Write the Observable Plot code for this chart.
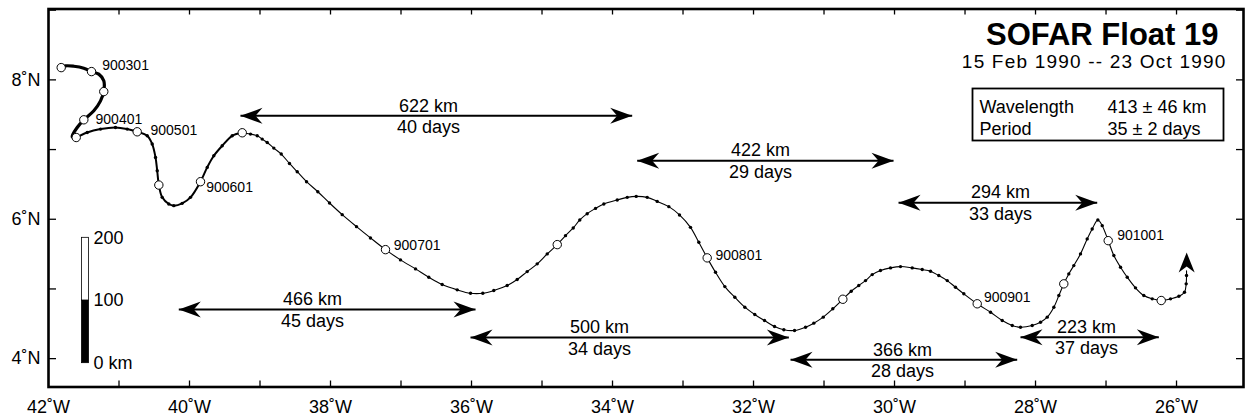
<!DOCTYPE html>
<html><head><meta charset="utf-8">
<script src="https://cdn.jsdelivr.net/npm/d3@7"></script>
<script src="https://cdn.jsdelivr.net/npm/@observablehq/plot@0.6"></script>
<style>body{margin:0;background:#fff;} svg{display:block}</style>
</head><body><div id="chart"></div>
<script>
// ---- data ----
const title = "SOFAR Float 19";
const subtitle = "15 Feb 1990 -- 23 Oct 1990";
const statNames = ["Wavelength", "Period"];
const statValues = ["413 \u00b1 46 km", "35 \u00b1 2 days"];

const lonTicks = [-42, -40, -38, -36, -34, -32, -30, -28, -26];
const latTicks = [4, 6, 8];

// semi-monthly fixes (open circles)
const fixDates = ["900215","900301","900315","900401","900415","900501","900515","900601","900615",
                  "900701","900715","900801","900815","900901","900915","901001","901015"];
const fixLon = [-41.820,-41.390,-41.216,-41.499,-41.607,-40.742,-40.435,-39.844,-39.252,
                -37.220,-34.784,-32.657,-30.733,-28.827,-27.599,-26.969,-26.217];
const fixLat = [8.176,8.119,7.832,7.427,7.173,7.255,6.491,6.539,7.241,
                5.564,5.636,5.446,4.852,4.787,5.073,5.693,4.834];

// track, in three pieces (slow / medium / fast drift)
const trackSlow = [[-41.820,8.176],[-41.759,8.201],[-41.641,8.196],[-41.499,8.168],[-41.390,8.119],
  [-41.287,8.082],[-41.216,7.986],[-41.216,7.832],[-41.262,7.699],[-41.357,7.556],[-41.499,7.427],
  [-41.593,7.317],[-41.664,7.183],[-41.607,7.173]];
const trackMid = [[-41.607,7.173],[-41.451,7.245],[-41.262,7.294],[-41.050,7.317],[-40.884,7.294],
  [-40.742,7.255],[-40.600,7.198],[-40.529,7.079],[-40.482,6.887],[-40.458,6.696],[-40.435,6.491],
  [-40.387,6.314],[-40.294,6.219],[-40.223,6.195],[-40.104,6.228],[-39.986,6.314],[-39.844,6.539],
  [-39.749,6.744],[-39.655,6.911],[-39.536,7.054],[-39.394,7.198],[-39.252,7.241]];
const trackFast = [[-39.252,7.241],
  [-39.135,7.222],[-39.040,7.198],[-38.969,7.150],[-38.898,7.102],[-38.804,7.021],[-38.699,6.936],
  [-38.582,6.801],[-38.472,6.682],[-38.340,6.539],[-38.180,6.395],[-38.014,6.233],[-37.834,6.066],
  [-37.631,5.894],[-37.433,5.732],[-37.220,5.564],[-37.007,5.417],[-36.794,5.288],[-36.606,5.168],
  [-36.416,5.063],[-36.203,4.987],[-36.014,4.938],[-35.840,4.938],[-35.684,4.977],[-35.494,5.049],
  [-35.352,5.135],[-35.210,5.249],[-35.068,5.360],[-34.926,5.503],[-34.784,5.636],[-34.667,5.765],
  [-34.557,5.875],[-34.464,5.990],[-34.359,6.080],[-34.241,6.156],[-34.123,6.219],[-33.933,6.277],
  [-33.791,6.314],[-33.664,6.328],[-33.508,6.314],[-33.366,6.256],[-33.201,6.181],[-33.050,6.062],
  [-32.894,5.884],[-32.776,5.669],[-32.657,5.446],[-32.539,5.239],[-32.407,5.034],[-32.265,4.881],
  [-32.123,4.738],[-31.982,4.633],[-31.844,4.547],[-31.702,4.461],[-31.570,4.414],[-31.418,4.404],
  [-31.262,4.451],[-31.145,4.509],[-31.011,4.595],[-30.875,4.715],[-30.733,4.852],[-30.614,4.967],
  [-30.507,5.049],[-30.411,5.120],[-30.316,5.206],[-30.199,5.264],[-30.057,5.302],[-29.915,5.321],
  [-29.749,5.302],[-29.607,5.278],[-29.489,5.254],[-29.372,5.192],[-29.252,5.120],[-29.135,5.024],
  [-29.017,4.930],[-28.827,4.787],[-28.638,4.666],[-28.472,4.547],[-28.330,4.476],[-28.213,4.451],
  [-28.047,4.476],[-27.929,4.523],[-27.834,4.595],[-27.740,4.738],[-27.669,4.905],[-27.599,5.073],
  [-27.528,5.216],[-27.457,5.335],[-27.362,5.503],[-27.267,5.718],[-27.196,5.861],[-27.116,5.990],
  [-27.054,5.908],[-26.969,5.693],[-26.889,5.479],[-26.794,5.311],[-26.699,5.168],[-26.582,5.016],
  [-26.464,4.905],[-26.345,4.858],[-26.217,4.834],[-26.085,4.858],[-25.967,4.895],[-25.887,4.953],
  [-25.863,5.073],[-25.858,5.192],[-25.858,5.260]];
const trackTip = [[-25.856, 5.522]];

// wavelength / period spans (double arrows)
const spanKm   = [622, 422, 294, 466, 500, 366, 223];
const spanDays = [40, 29, 33, 45, 34, 28, 37];
const spanWest = [-39.277, -33.650, -29.943, -40.152, -36.014, -31.475, -28.213];
const spanEast = [-33.721, -30.014, -27.125, -35.943, -31.499, -28.260, -26.251];
const spanLat  = [7.484, 6.840, 6.238, 4.705, 4.304, 3.984, 4.308];
const spanLabelLon = [-36.610, -31.901, -28.496, -38.255, -34.184, -29.887, -27.277];

// distance scale bar (km)
const scaleKm = [0, 100, 200];
const kmPerDegLat = 111.2;
const scaleBaseLat = 3.935;

// ---- build tables ----
const fixes = fixDates.map((d, i) => ({date: d, lon: fixLon[i], lat: fixLat[i]}));
const spans = spanKm.map((k, i) => ({km: k, days: spanDays[i], west: spanWest[i], east: spanEast[i],
  lat: spanLat[i], labelLon: spanLabelLon[i]}));
const scaleSegs = [[0, 100], [100, 200]];

const labelOffset = {
  "900301": [10.7, -5.7], "900401": [11.7, -0.7], "900501": [13.3, -1], "900601": [5.7, 5.7],
  "900701": [8.3, -4], "900801": [8.3, -2.3], "900901": [6.7, -6.7], "901001": [9, -5]
};

function head(ux, uy, L = 22, W = 8, N = 15) {
  return {draw(ctx) {
    const px = -uy, py = ux;
    ctx.moveTo(0, 0);
    ctx.lineTo(-ux * L + px * W, -uy * L + py * W);
    ctx.lineTo(-ux * N, -uy * N);
    ctx.lineTo(-ux * L - px * W, -uy * L - py * W);
    ctx.closePath();
  }};
}
const headRight = head(1, 0), headLeft = head(-1, 0), headUp = head(0, -1, 20, 8, 14);

const FS = 18;
const M = "middle";
const fixLabelMarks = fixes.filter(f => f.date.endsWith("01")).map(f =>
  Plot.text([f], {x: "lon", y: "lat", text: "date", dx: labelOffset[f.date][0], dy: labelOffset[f.date][1],
    textAnchor: "start", lineAnchor: M, fontSize: 14}));

const plot = Plot.plot({
  width: 1245, height: 419,
  marginLeft: 48, marginRight: 2, marginTop: 8.5, marginBottom: 32.5,
  x: {domain: [-42, -25.05], axis: null},
  y: {domain: [3.593, 9.017], axis: null},
  style: {fontFamily: "'Liberation Sans', Arial, Helvetica, sans-serif", background: "white", color: "black"},
  marks: [
    // ticks on all four sides, pointing inward
    Plot.tickX(d3.range(-41, -25), {x: d => d, insetTop: 372, strokeWidth: 1.3}),
    Plot.tickX(d3.range(-41, -25), {x: d => d, insetBottom: 372, strokeWidth: 1.3}),
    Plot.tickY([4, 5, 6, 7, 8, 9], {y: d => d, insetRight: 1187, strokeWidth: 1.3}),
    Plot.tickY([4, 5, 6, 7, 8, 9], {y: d => d, insetLeft: 1188, strokeWidth: 1.3}),
    // tick labels
    Plot.text(lonTicks, {x: d => d, frameAnchor: "bottom", dy: 20, lineAnchor: M, text: d => `${-d}\u02DAW`, fontSize: FS}),
    Plot.text(latTicks, {y: d => d, frameAnchor: "left", dx: -8, lineAnchor: M, textAnchor: "end", text: d => `${d}\u02DAN`, fontSize: FS}),
    // scale bar
    Plot.barY(scaleSegs, {y1: d => scaleBaseLat + d[0] / kmPerDegLat, y2: d => scaleBaseLat + d[1] / kmPerDegLat,
      insetLeft: 33.5, insetRight: 1154.5, fill: (d, i) => i === 0 ? "black" : "white", stroke: "black", strokeWidth: 0.8}),
    Plot.text(scaleKm, {y: d => scaleBaseLat + d / kmPerDegLat, frameAnchor: "left", dx: 45, textAnchor: "start",
      lineAnchor: M, text: d => d === 0 ? "0 km" : String(d), fontSize: FS}),
    // span arrows
    Plot.link(spans, {x1: "west", x2: "east", y1: "lat", y2: "lat", stroke: "black", strokeWidth: 2}),
    Plot.dot(spans, {x: "east", y: "lat", symbol: headRight, fill: "black", stroke: "none"}),
    Plot.dot(spans, {x: "west", y: "lat", symbol: headLeft, fill: "black", stroke: "none"}),
    Plot.text(spans, {x: "labelLon", y: "lat", dy: -10, lineAnchor: M, text: d => `${d.km} km`, fontSize: FS}),
    Plot.text(spans, {x: "labelLon", y: "lat", dy: 11.5, lineAnchor: M, text: d => `${d.days} days`, fontSize: FS}),
    // float track
    Plot.line(trackSlow, {x: d => d[0], y: d => d[1], curve: "catmull-rom", stroke: "black", strokeWidth: 3.2}),
    Plot.line(trackMid, {x: d => d[0], y: d => d[1], curve: "catmull-rom", stroke: "black", strokeWidth: 2}),
    Plot.line(trackFast, {x: d => d[0], y: d => d[1], curve: "catmull-rom", stroke: "black", strokeWidth: 1.1}),
    Plot.dot(trackMid, {x: d => d[0], y: d => d[1], r: 1.7, fill: "black", stroke: "none"}),
    Plot.dot(trackFast.slice(0, -1), {x: d => d[0], y: d => d[1], r: 1.7, fill: "black", stroke: "none"}),
    Plot.dot(trackTip, {x: d => d[0], y: d => d[1], symbol: headUp, fill: "black", stroke: "none"}),
    Plot.dot(fixes, {x: "lon", y: "lat", r: 4.2, fill: "white", stroke: "black", strokeWidth: 1}),
    ...fixLabelMarks,
    // title block
    Plot.text([title], {text: d => d, frameAnchor: "top-right", dx: -25, dy: 26, lineAnchor: M, fontSize: 31, fontWeight: "bold", textAnchor: "end"}),
    Plot.text([subtitle], {text: d => d, frameAnchor: "top-right", dx: -17, dy: 52.5, lineAnchor: M, fontSize: 19, textAnchor: "end"}),
    Plot.frame({insetLeft: 924, insetRight: 20, insetTop: 79.5, insetBottom: 246.5, stroke: "black", strokeWidth: 1.8}),
    Plot.text(statNames, {text: d => d, frameAnchor: "top-left", dx: 931, dy: 98.7, lineAnchor: M, fontSize: FS, textAnchor: "start",
      filter: (d, i) => i === 0}),
    Plot.text(statNames, {text: d => d, frameAnchor: "top-left", dx: 931, dy: 120.7, lineAnchor: M, fontSize: FS, textAnchor: "start",
      filter: (d, i) => i === 1}),
    Plot.text(statValues, {text: d => d, frameAnchor: "top-left", dx: 1059, dy: 98.7, lineAnchor: M, fontSize: FS, textAnchor: "start",
      filter: (d, i) => i === 0}),
    Plot.text(statValues, {text: d => d, frameAnchor: "top-left", dx: 1059, dy: 120.7, lineAnchor: M, fontSize: FS, textAnchor: "start",
      filter: (d, i) => i === 1}),
    // outer frame
    Plot.frame({stroke: "black", strokeWidth: 2.6})
  ]
});
d3.select(plot).selectAll("text").filter(function () { return this.textContent === subtitle; })
  .attr("letter-spacing", "1.2");
document.getElementById("chart").appendChild(plot);
</script></body></html>
